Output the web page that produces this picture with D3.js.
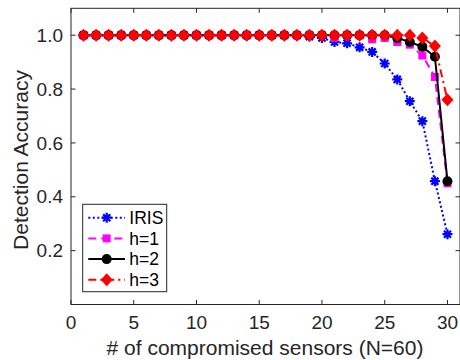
<!DOCTYPE html>
<html><head><meta charset="utf-8">
<script src="https://cdn.jsdelivr.net/npm/d3@7"></script>
<style>body{margin:0;background:#fff}svg{display:block}</style>
</head><body>
<script>
const xs = d3.range(1, 31);
const iris = [1,1,1,1,1,1,1,1,1,1,1,1,1,1,1,1,1,1,0.995,0.99,0.975,0.97,0.955,0.938,0.895,0.836,0.755,0.681,0.458,0.261];
const h1 = [1,1,1,1,1,1,1,1,1,1,1,1,1,1,1,1,1,1,1,1,0.99,1,1,0.985,0.99,0.975,0.965,0.925,0.845,0.45];
const h2 = [1,1,1,1,1,1,1,1,1,1,1,1,1,1,1,1,1,1,1,1,1,1,1,1,1,0.99,0.975,0.957,0.92,0.458];
const h3 = [1,1,1,1,1,1,1,1,1,1,1,1,1,1,1,1,1,1,1,1,1,1,1,1,1,1,1,0.99,0.96,0.76];
const seriesNames = ["IRIS","h=1","h=2","h=3"];
const xTicks = [0,5,10,15,20,25,30];
const yTicks = [0.2,0.4,0.6,0.8,1.0];

const W = 460, H = 360;
const svg = d3.select("body").append("svg").attr("width", W).attr("height", H);
const x = d3.scaleLinear().domain([0, 31]).range([71, 460]);
const y = d3.scaleLinear().domain([0, 1.1]).range([304.5, 8.3]);
const axCol = "#262626";
const font = "'Liberation Sans', Arial, sans-serif";

const series = [
  {name: seriesNames[0], vals: iris, color: "#0000ff", dash: "2,2.5", marker: "star"},
  {name: seriesNames[1], vals: h1, color: "#ff00ff", dash: "8,5", marker: "square"},
  {name: seriesNames[2], vals: h2, color: "#000000", dash: null, marker: "circle"},
  {name: seriesNames[3], vals: h3, color: "#ff0000", dash: "8,4,2,4", marker: "diamond"}
];

function drawMarker(g, type, cx, cy, color) {
  if (type === "star") {
    const r = 5;
    const d = r * Math.SQRT1_2;
    g.append("path")
      .attr("d", `M${cx-r},${cy}L${cx+r},${cy}M${cx},${cy-r}L${cx},${cy+r}M${cx-d},${cy-d}L${cx+d},${cy+d}M${cx-d},${cy+d}L${cx+d},${cy-d}`)
      .attr("stroke", color).attr("stroke-width", 2.2).attr("fill", "none");
  } else if (type === "square") {
    g.append("rect").attr("x", cx-4).attr("y", cy-4).attr("width", 8).attr("height", 8).attr("fill", color);
  } else if (type === "circle") {
    g.append("circle").attr("cx", cx).attr("cy", cy).attr("r", 5).attr("fill", color);
  } else if (type === "diamond") {
    g.append("path").attr("d", `M${cx},${cy-6.5}L${cx+6},${cy}L${cx},${cy+6.5}L${cx-6},${cy}Z`).attr("fill", color);
  }
}

// axes box
const axG = svg.append("g");
const x0 = x.range()[0], x1 = x.range()[1], y0 = y.range()[0], y1 = y.range()[1];
axG.append("rect").attr("x", x0).attr("y", y1).attr("width", x1 - x0).attr("height", y0 - y1)
  .attr("fill", "none").attr("stroke", axCol).attr("stroke-width", 1);

// ticks
const tl = 4.5;
xTicks.forEach(t => {
  const px = x(t);
  axG.append("line").attr("x1", px).attr("x2", px).attr("y1", y0).attr("y2", y0 - tl).attr("stroke", axCol);
  axG.append("line").attr("x1", px).attr("x2", px).attr("y1", y1).attr("y2", y1 + tl).attr("stroke", axCol);
  axG.append("text").attr("x", px).attr("y", 329).attr("text-anchor", "middle")
    .attr("font-family", font).attr("font-size", 19).attr("fill", axCol).text(t);
});
yTicks.forEach(t => {
  const py = y(t);
  axG.append("line").attr("x1", x0).attr("x2", x0 + tl).attr("y1", py).attr("y2", py).attr("stroke", axCol);
  axG.append("line").attr("x1", x1).attr("x2", x1 - tl).attr("y1", py).attr("y2", py).attr("stroke", axCol);
  axG.append("text").attr("x", 63).attr("y", py).attr("dy", "0.35em").attr("text-anchor", "end")
    .attr("font-family", font).attr("font-size", 19).attr("fill", axCol).text(t.toFixed(1));
});

// axis labels
svg.append("text").attr("x", 265).attr("y", 355).attr("text-anchor", "middle")
  .attr("font-family", font).attr("font-size", 21).attr("fill", axCol).text("# of compromised sensors (N=60)");
svg.append("text").attr("transform", "translate(28,160) rotate(-90)").attr("text-anchor", "middle")
  .attr("font-family", font).attr("font-size", 21).attr("fill", axCol).text("Detection Accuracy");

// series
const plotG = svg.append("g");
series.forEach(s => {
  const line = d3.line().x((d, i) => x(xs[i])).y(d => y(d));
  const p = plotG.append("path").datum(s.vals).attr("d", line)
    .attr("fill", "none").attr("stroke", s.color).attr("stroke-width", 2);
  if (s.dash) p.attr("stroke-dasharray", s.dash);
  s.vals.forEach((v, i) => drawMarker(plotG, s.marker, x(xs[i]), y(v), s.color));
});

// legend
const lg = svg.append("g");
lg.append("rect").attr("x", 82.7).attr("y", 204.3).attr("width", 84).attr("height", 87.4)
  .attr("fill", "#fff").attr("stroke", axCol).attr("stroke-width", 1);
series.forEach((s, i) => {
  const cy = 217.7 + i * 20.7;
  const l = lg.append("line").attr("x1", 88.3).attr("x2", 125).attr("y1", cy).attr("y2", cy)
    .attr("stroke", s.color).attr("stroke-width", 2);
  if (s.dash) l.attr("stroke-dasharray", s.dash);
  drawMarker(lg, s.marker, 106.7, cy, s.color);
  lg.append("text").attr("x", 129.3).attr("y", cy).attr("dy", "0.35em")
    .attr("font-family", font).attr("font-size", 17.5).attr("fill", "#000").text(s.name);
});
</script>
</body></html>
